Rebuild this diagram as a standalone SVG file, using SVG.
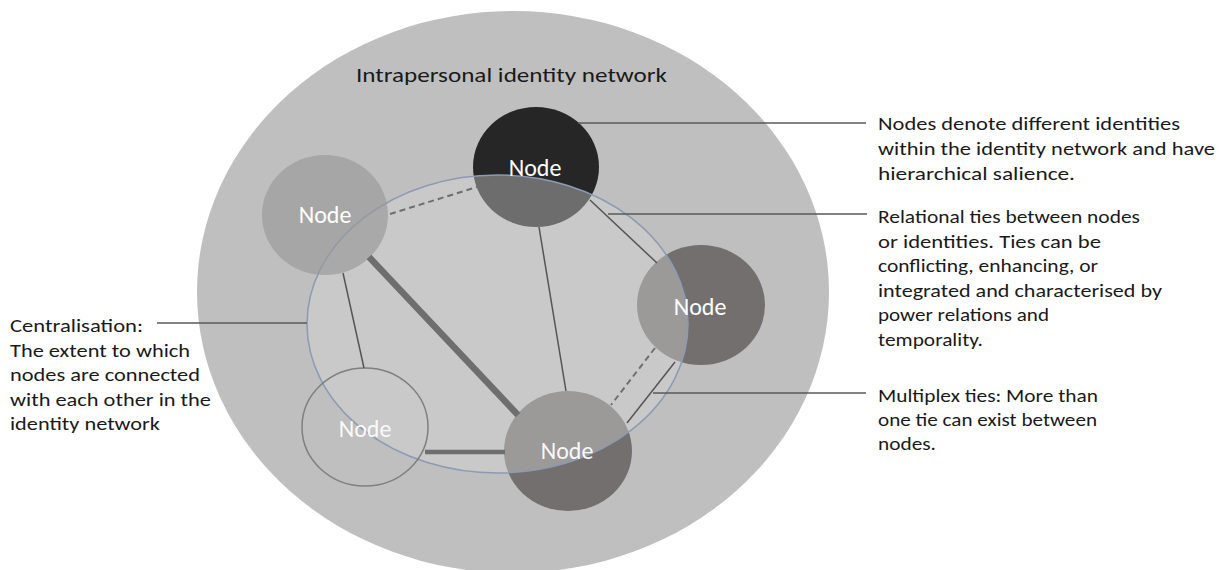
<svg xmlns="http://www.w3.org/2000/svg" width="1227" height="570" viewBox="0 0 1227 570">
  <style>
    .txt { font-family: Carlito, Lato, "Open Sans", sans-serif; fill: #1a1a1a; font-size: 19px; }
    .title { font-size: 21px; }
    .lbl { font-family: Carlito, Lato, "Open Sans", sans-serif; fill: #ffffff; font-size: 24px; text-anchor: middle; }
    .thin { stroke: #555555; stroke-width: 1.5; fill: none; }
    .thick { stroke: #6e6e6e; fill: none; }
    .dash { stroke: #6e6e6e; stroke-width: 2; stroke-dasharray: 6 4; fill: none; }
    .call { stroke: #595959; stroke-width: 1.3; fill: none; }
  </style>

  <rect width="1227" height="570" fill="#ffffff"/>

  <!-- outer boundary of the network -->
  <ellipse id="network" cx="513" cy="292" rx="316" ry="281" fill="#bfbfbf"/>
  <text class="txt title" x="356" y="82" textLength="311" lengthAdjust="spacingAndGlyphs">Intrapersonal identity network</text>

  <!-- nodes sitting beneath the translucent centre -->
  <g id="node-top">
    <ellipse cx="536" cy="167" rx="63" ry="60" fill="#262626"/>
  </g>
  <g id="node-right">
    <ellipse cx="701" cy="305" rx="64" ry="60" fill="#736f6f"/>
  </g>
  <g id="node-bottom">
    <ellipse cx="568" cy="451" rx="64" ry="60" fill="#736f6f"/>
  </g>

  <!-- translucent centre region -->
  <ellipse id="centre" cx="497.5" cy="324" rx="190.5" ry="149" fill="#dadada" fill-opacity="0.4" stroke="#8c9ab3" stroke-width="1.5"/>

  <g id="node-bottom-left">
    <ellipse cx="365" cy="427" rx="63" ry="59" fill="none" stroke="#7f7f7f" stroke-width="1.5"/>
  </g>
  <g id="node-left">
    <ellipse cx="325" cy="215" rx="63" ry="60" fill="#989898" fill-opacity="0.65"/>
  </g>

  <!-- ties between nodes -->
  <g id="ties">
    <line class="dash" x1="390" y1="214" x2="477" y2="187"/>
    <line class="thin" x1="590" y1="200" x2="657" y2="263"/>
    <line class="thin" x1="539" y1="227" x2="566" y2="391"/>
    <line class="thin" x1="343" y1="273" x2="364" y2="368"/>
    <line class="thick" stroke-width="6.5" x1="369" y1="257" x2="518" y2="415"/>
    <line class="thick" stroke-width="4.5" x1="425" y1="452" x2="505" y2="452"/>
    <line class="dash" stroke-width="1.5" stroke-dasharray="5 3" x1="655" y1="348" x2="611" y2="405"/>
    <line class="thin" x1="675" y1="362" x2="627" y2="423"/>
  </g>

  <!-- callout lines -->
  <g id="callouts">
    <line class="call" x1="578" y1="123" x2="866" y2="123"/>
    <line class="call" x1="608" y1="214" x2="867" y2="214"/>
    <line class="call" x1="653" y1="393" x2="866" y2="393"/>
    <line class="call" x1="157" y1="323" x2="307" y2="323"/>
  </g>

  <!-- node labels -->
  <g id="labels">
    <text class="lbl" x="535" y="176">Node</text>
    <text class="lbl" x="325" y="223">Node</text>
    <text class="lbl" x="700" y="315">Node</text>
    <text class="lbl" x="567" y="459" fill-opacity="0.95">Node</text>
    <text class="lbl" x="365" y="437" fill-opacity="0.92">Node</text>
  </g>

  <!-- annotations -->
  <g id="note-nodes" class="txt">
    <text x="878" y="130" textLength="302" lengthAdjust="spacingAndGlyphs">Nodes denote different identities</text>
    <text x="878" y="155" textLength="337" lengthAdjust="spacingAndGlyphs">within the identity network and have</text>
    <text x="878" y="180" textLength="197" lengthAdjust="spacingAndGlyphs">hierarchical salience.</text>
  </g>
  <g id="note-ties" class="txt">
    <text x="878" y="223" textLength="262" lengthAdjust="spacingAndGlyphs">Relational ties between nodes</text>
    <text x="878" y="247.5" textLength="223" lengthAdjust="spacingAndGlyphs">or identities. Ties can be</text>
    <text x="878" y="272" textLength="220" lengthAdjust="spacingAndGlyphs">conflicting, enhancing, or</text>
    <text x="878" y="296.5" textLength="284" lengthAdjust="spacingAndGlyphs">integrated and characterised by</text>
    <text x="878" y="321" textLength="171" lengthAdjust="spacingAndGlyphs">power relations and</text>
    <text x="878" y="345.5" textLength="105" lengthAdjust="spacingAndGlyphs">temporality.</text>
  </g>
  <g id="note-multiplex" class="txt">
    <text x="878" y="402" textLength="220" lengthAdjust="spacingAndGlyphs">Multiplex ties: More than</text>
    <text x="878" y="426" textLength="219" lengthAdjust="spacingAndGlyphs">one tie can exist between</text>
    <text x="878" y="450" textLength="58" lengthAdjust="spacingAndGlyphs">nodes.</text>
  </g>
  <g id="note-centralisation" class="txt">
    <text x="10" y="332" textLength="133" lengthAdjust="spacingAndGlyphs">Centralisation:</text>
    <text x="10" y="356.5" textLength="180" lengthAdjust="spacingAndGlyphs">The extent to which</text>
    <text x="10" y="381" textLength="190" lengthAdjust="spacingAndGlyphs">nodes are connected</text>
    <text x="10" y="405.5" textLength="201" lengthAdjust="spacingAndGlyphs">with each other in the</text>
    <text x="10" y="430" textLength="150" lengthAdjust="spacingAndGlyphs">identity network</text>
  </g>
</svg>
